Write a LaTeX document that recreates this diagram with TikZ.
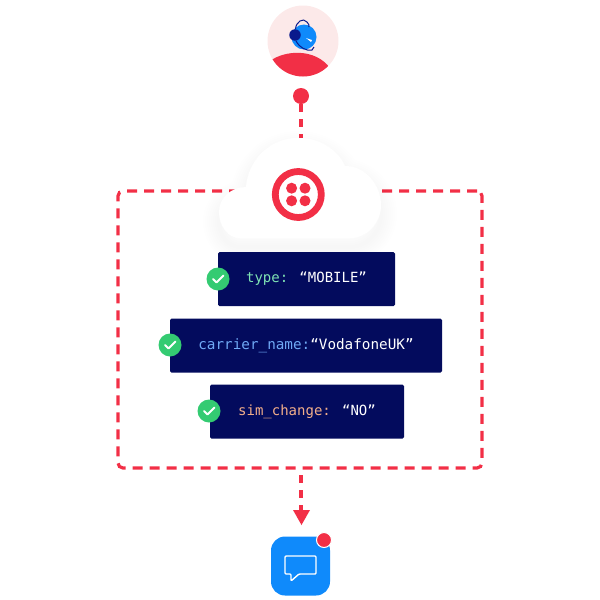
\documentclass[tikz,border=0pt]{standalone}
\usepackage{fontspec}
\newfontfamily\codefont{DejaVu Sans Mono}
\usetikzlibrary{arrows.meta}

\definecolor{alertred}{HTML}{F22F46}
\definecolor{softpink}{HTML}{FCE9E9}
\definecolor{navybox}{HTML}{030B5D}
\definecolor{okgreen}{HTML}{34CB72}
\definecolor{appblue}{HTML}{0F8AFB}
\definecolor{agentdark}{HTML}{0A1A8C}
\definecolor{keymint}{HTML}{7FE3B4}
\definecolor{keyblue}{HTML}{6FA8F5}
\definecolor{keypeach}{HTML}{F2AE8A}

\newcommand{\cloudpath}{(240,238) .. controls (228,238) and (219,226) .. (219,212) .. controls (219,198) and (231,187) .. (246,187) .. controls (248,160) and (270,138) .. (298,138) .. controls (320,138) and (338,150) .. (345,166) .. controls (365,166) and (381,185) .. (381,205) .. controls (381,224) and (366,238) .. (350,238) -- cycle}

\tikzset{
    keybox/.style={fill=navybox,rounded corners=1.5pt,inner sep=0pt,minimum height=54pt,font=\codefont\fontsize{14}{16}\selectfont,text=white},
    tick/.style={circle,fill=okgreen,inner sep=0pt,minimum size=23pt},
    tickmark/.style={draw=white,line width=1.8pt,line cap=round,line join=round},
    flow/.style={draw=alertred,line width=3.2pt,dash pattern=on 8pt off 7pt},
    logodot/.style={circle,fill=alertred,inner sep=0pt,minimum size=11pt},
}

\begin{document}
\begin{tikzpicture}[x=1pt,y=-1pt,>=Stealth]
\useasboundingbox (0,0) rectangle (600,600);

\node[circle,fill=softpink,inner sep=0pt,minimum size=71pt] (agent) at (303,41) {};
\begin{scope}
    \clip (303,41) circle (35.5);
    \fill[alertred] (270,61) .. controls (285,50) and (315,48) .. (330,68) -- (330,80) -- (270,80) -- cycle;
\end{scope}
\node[circle,fill=appblue,inner sep=0pt,minimum size=25pt] (head) at (304,37) {};
\node[circle,fill=agentdark,inner sep=0pt,minimum size=11.5pt] (ear) at (295,35) {};
\draw[agentdark,line width=1pt] (ear) .. controls (296,22) and (303,17) .. (307,22) .. controls (309,24) and (309,25) .. (309,27);
\draw[agentdark,line width=1pt] (296,41) .. controls (300,48) and (306,51) .. (312,50) -- (314,47);
\fill[white] (306,38) -- (312,40) -- (311,42) -- cycle;

\node[circle,fill=alertred,inner sep=0pt,minimum size=16pt] (dot) at (301,96) {};
\coordinate (cloudtop) at (301,145);
\draw[flow] (dot) -- (cloudtop);

\node[draw=alertred,line width=3.2pt,dash pattern=on 10pt off 7pt,rounded corners=5pt,inner sep=0pt,minimum width=364pt,minimum height=277pt] (frame) at (300,329.5) {};

% cloud with soft shadow
\foreach \w in {4,8,...,32}
    \draw[black,opacity=0.002,line width=\w pt,line join=round,yshift=-9pt] \cloudpath;
\fill[white] \cloudpath;

\node[circle,draw=alertred,line width=6.8pt,inner sep=0pt,minimum size=46pt] (logo) at (298.3,194.5) {};
\foreach \dx/\dy [count=\i] in {-6.7/-6.3,6.7/-6.3,-6.7/6.3,6.7/6.3}
    \node[logodot] (logo-\i) at (298.3+\dx,194.5+\dy) {};

\node[keybox,minimum width=177pt] (type) at (306.5,279) {\raisebox{-1.5pt}{{\color{keymint}type:} “MOBILE”}};
\node[keybox,minimum width=272pt,font=\codefont\fontsize{14.3}{16}\selectfont] (carrier) at (306,345.5) {\raisebox{-1.5pt}{{\color{keyblue}carrier\_name:}“VodafoneUK”}};
\node[keybox,minimum width=194pt] (sim) at (307,411.5) {\raisebox{-1.5pt}{{\color{keypeach}sim\_change:} “NO”}};

\foreach \name/\x/\y in {type/218/279,carrier/170/345,sim/209/411}{
    \node[tick] (tick-\name) at (\x,\y) {};
    \draw[tickmark] (\x-5,\y) -- (\x-1.5,\y+3.5) -- (\x+5.5,\y-3.5);
}

\node[fill=appblue,rounded corners=14pt,inner sep=0pt,minimum size=59pt] (app) at (300.5,566) {};
\node[circle,fill=alertred,draw=white,line width=1pt,inner sep=0pt,minimum size=15pt] (badge) at (324,540) {};
\draw[white,line width=1.4pt,line join=round,rounded corners=1pt] (285,556) -- (316,556) -- (316,574) -- (299,574) -- (291,581) -- (291,574) -- (285,574) -- cycle;

\coordinate (arrowstart) at (301,475);
\coordinate (arrowtip) at (301,525);
\draw[flow,shorten >=10pt] (arrowstart) -- (arrowtip);
\fill[alertred] (293,510) -- (310,510) -- (301.5,525) -- cycle;

\end{tikzpicture}
\end{document}
